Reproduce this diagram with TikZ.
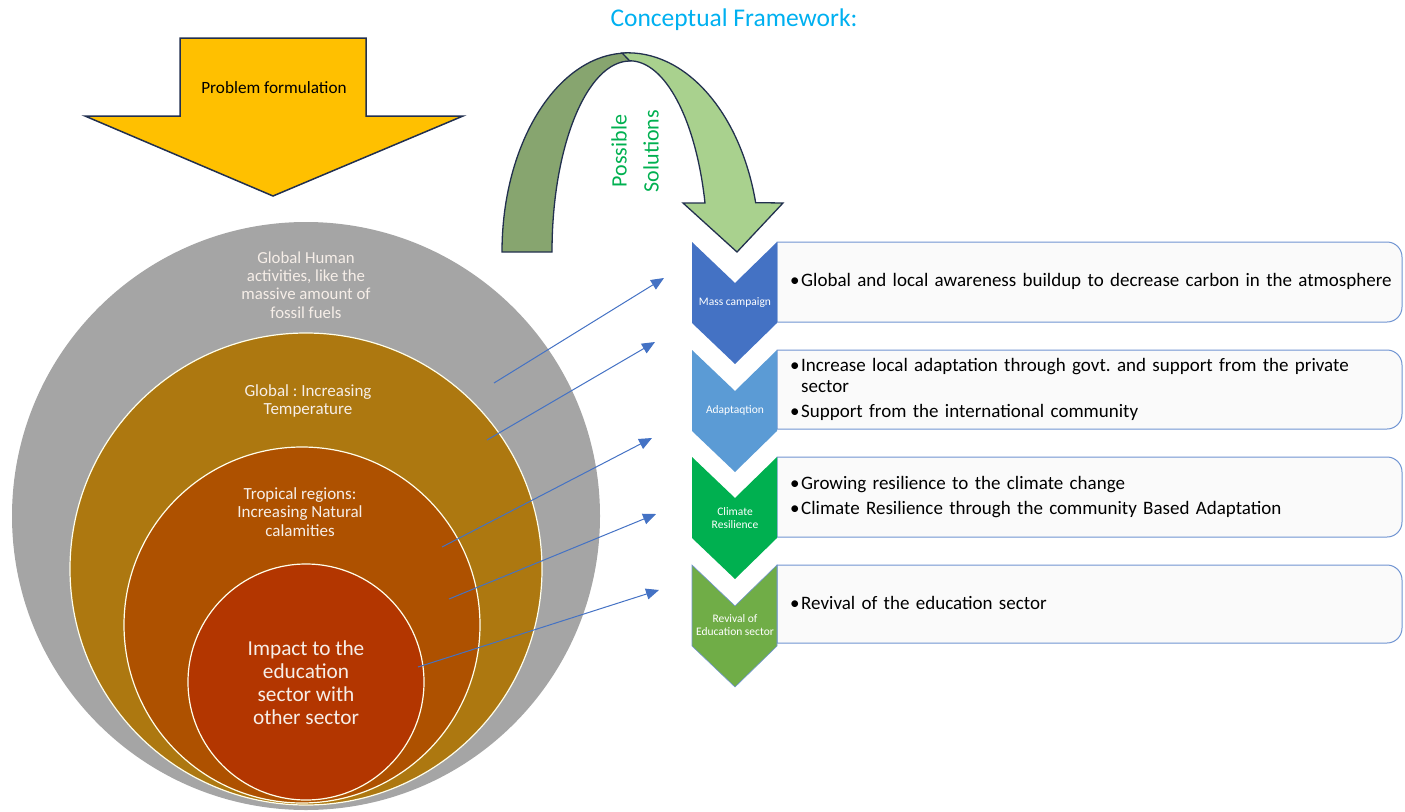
\documentclass[tikz,border=0pt]{standalone}
\usepackage{fontspec}
\setmainfont{Carlito}
\frenchspacing
\usetikzlibrary{arrows.meta}
\definecolor{cgray}{HTML}{A5A5A5}
\definecolor{cgold}{HTML}{AD7810}
\definecolor{corange}{HTML}{AE5100}
\definecolor{cred}{HTML}{B33600}
\definecolor{cyellow}{HTML}{FFC000}
\definecolor{navy}{HTML}{22304F}
\definecolor{cdkgreen}{HTML}{87A56F}
\definecolor{cltgreen}{HTML}{A9D18E}
\definecolor{ctitle}{HTML}{00B0F0}
\definecolor{csol}{HTML}{00B050}
\definecolor{chA}{HTML}{4472C4}
\definecolor{chB}{HTML}{5B9BD5}
\definecolor{chC}{HTML}{00B050}
\definecolor{chD}{HTML}{70AD47}
\definecolor{cline}{HTML}{4472C4}
\definecolor{cbox}{HTML}{7094D2}
\definecolor{ctxt}{HTML}{F6EEE8}
\begin{document}
\begin{tikzpicture}[x=1pt,y=1pt,
  ring/.style={circle,inner sep=0pt,draw=white!92!yellow,line width=1.2pt},
  ctext/.style={text=ctxt,align=center,inner sep=0pt},
  chlabel/.style={text=white,align=center,inner sep=0pt,font=\fontsize{11.5}{13}\selectfont},
  txtbox/.style={draw=cbox,line width=1pt,fill=white!98!black},
  btext/.style={anchor=north west,align=left,inner sep=0pt,text width=640pt,font=\fontsize{19}{21}\selectfont},
  link/.style={draw=cline,line width=1pt,-{Triangle[length=13pt,width=11pt]}}
]
\useasboundingbox (0,0) rectangle (1405,-811);

% ---- title
\node[text=ctitle,font=\fontsize{25.5}{30}\selectfont] (title) at (734,-20) {Conceptual Framework:};

% ---- problem formulation arrow
\draw[fill=cyellow,draw=navy,line width=1.5pt,line join=miter]
  (180,-38) -- (366,-38) -- (366,-116) -- (463,-116) -- (273,-196) -- (85,-116) -- (180,-116) -- cycle;
\node[font=\fontsize{17.2}{20}\selectfont] (prob) at (274,-88) {Problem formulation};

% ---- circles
\node[circle,inner sep=0pt,minimum size=588pt,fill=cgray] (c1) at (306,-516) {};
\node[ring,minimum size=472pt,fill=cgold] (c2) at (306,-569) {};
\node[ring,minimum size=356pt,fill=corange] (c3) at (302,-625) {};
\node[ring,minimum size=236pt,fill=cred] (c4) at (306,-682) {};

\node[ctext,font=\fontsize{16.8}{18.3}\selectfont] (t1) at (306,-285) {Global Human\\activities, like the\\massive amount of\\fossil fuels};
\node[ctext,font=\fontsize{17}{18.3}\selectfont] (t2) at (308,-401) {Global : Increasing\\Temperature};
\node[ctext,font=\fontsize{17}{18.5}\selectfont] (t3) at (300,-512) {Tropical regions:\\Increasing Natural\\calamities};
\node[ctext,font=\fontsize{21.3}{23}\selectfont] (t4) at (306,-683) {Impact to the\\education\\sector with\\other sector};

% ---- curved arrow (possible solutions)
\draw[fill=cdkgreen,draw=navy,line width=1.3pt]
  (502,-252) arc[start angle=180,end angle=90,x radius=126,y radius=199]
  -- (630,-61) arc[start angle=90,end angle=180,x radius=78,y radius=191] -- cycle;
\draw[fill=cltgreen,draw=navy,line width=1.3pt,line join=miter]
  (622,-53) arc[start angle=92.5,end angle=14.3,x radius=132,y radius=199]
  -- (783,-203) -- (737,-252) -- (683,-203) -- (705,-203)
  arc[start angle=14.8,end angle=90,x radius=78,y radius=191] -- cycle;
\node[rotate=90,text=csol,align=center,font=\fontsize{22}{32}\selectfont] (sol) at (635,-151) {Possible\\Solutions};

% ---- text boxes
\foreach \n/\t/\b in {b1/242/322, b2/350/429, b3/457/537, b4/565/643}{
  \draw[txtbox] (777,-\t) -- (1387,-\t) arc[start angle=90,end angle=0,radius=15]
    -- (1402,-\b+15) arc[start angle=0,end angle=-90,radius=15] -- (777,-\b) -- cycle;
}

% ---- chevrons
\fill[chA] (692,-242) -- (735,-283) -- (777,-242) -- (777,-323) -- (735,-364) -- (692,-323) -- cycle;
\fill[chB] (692,-350) -- (735,-391) -- (777,-350) -- (777,-431) -- (735,-472) -- (692,-431) -- cycle;
\fill[chC] (692,-457) -- (735,-498) -- (777,-457) -- (777,-538) -- (735,-579) -- (692,-538) -- cycle;
\fill[chD] (692,-565) -- (735,-606) -- (777,-565) -- (777,-646) -- (735,-687) -- (692,-646) -- cycle;
\draw[draw=cbox,line width=0.6pt] (692,-565) -- (735,-606) -- (777,-565) -- (777,-646) -- (735,-687) -- (692,-646) -- cycle;

\node[chlabel] (l1) at (735,-303) {Mass campaign};
\node[chlabel] (l2) at (735,-410) {Adaptaqtion};
\node[chlabel] (l3) at (735,-518) {Climate\\Resilience};
\node[chlabel] (l4) at (735,-625) {Revival of\\Education sector};

% ---- box texts
\def\bul{\makebox[11pt][l]{\textbullet}}
\node[btext] (x1) at (790,-273) {\bul Global and local awareness buildup to decrease carbon in the atmosphere};
\node[btext] (x2) at (790,-358) {\bul Increase local adaptation through govt. and support from the private\\\hspace*{11pt}sector\\[4pt]\bul Support from the international community};
\node[btext] (x3) at (790,-476) {\bul Growing resilience to the climate change\\[4pt]\bul Climate Resilience through the community Based Adaptation};
\node[btext] (x4) at (790,-596) {\bul Revival of the education sector};

% ---- connectors
\coordinate (s1) at (494,-383);
\coordinate (s2) at (487,-440);
\coordinate (s3) at (442,-547);
\coordinate (s4) at (449,-599);
\coordinate (s5) at (418,-667);
\coordinate (e1) at (664,-278);
\coordinate (e2) at (655,-342);
\coordinate (e3) at (652,-438);
\coordinate (e4) at (656,-514);
\coordinate (e5) at (659,-590);
\draw[link] (s1) -- (e1);
\draw[link] (s2) -- (e2);
\draw[link] (s3) -- (e3);
\draw[link] (s4) -- (e4);
\draw[link] (s5) -- (e5);
\end{tikzpicture}
\end{document}
